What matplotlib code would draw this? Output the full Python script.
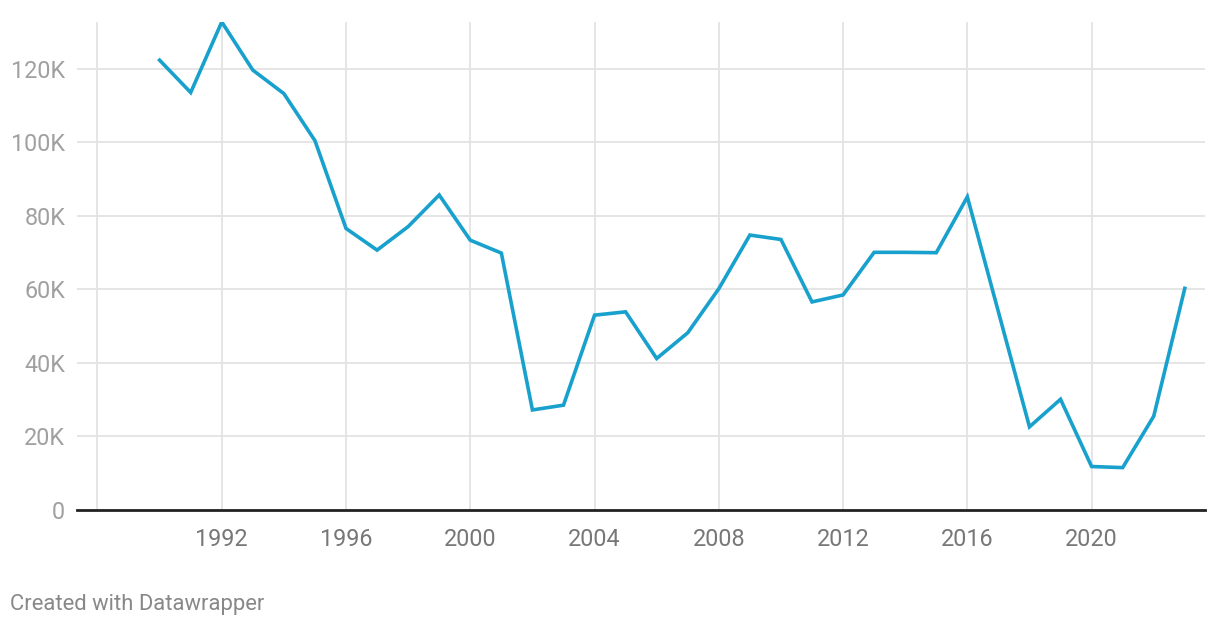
import matplotlib.pyplot as plt

# values (thousands)
years = list(range(1990, 2024))
values = [122.3, 113.5, 132.7, 119.6, 113.2, 100.4, 76.5, 70.6, 77.0, 85.6,
          73.3, 69.8, 27.1, 28.4, 52.9, 53.8, 41.1, 48.1, 60.1, 74.7,
          73.5, 56.5, 58.4, 70.0, 70.0, 69.9, 85.1, 53.8, 22.5, 30.0,
          11.7, 11.4, 25.4, 60.2]

x_ticks = list(range(1988, 2021, 4))
x_labels = [''] + [str(y) for y in x_ticks[1:]]
y_ticks = [0, 20, 40, 60, 80, 100, 120]
y_labels = ['0'] + ['%dK' % v for v in y_ticks[1:]]

plt.rcParams['font.family'] = ['Roboto', 'DejaVu Sans']

fig = plt.figure(figsize=(12.2, 6.26), dpi=100)
ax = fig.add_axes([0.0631, 0.1861, 0.9246, 0.7788])

ax.plot(years, values, color='#18a1cd', linewidth=2.6, solid_joinstyle='miter', zorder=3)

ax.set_xlim(1987.34, 2023.65)
ax.set_ylim(0, 132.7)
ax.set_xticks(x_ticks)
ax.set_xticklabels(x_labels, color='#777777', fontsize=16.8)
ax.set_yticks(y_ticks)
ax.set_yticklabels(y_labels, color='#a0a0a0', fontsize=16.8)
ax.tick_params(axis='both', length=0)
ax.tick_params(axis='x', pad=13)
ax.tick_params(axis='y', pad=8.5)

ax.grid(True, color='#e3e3e3', linewidth=1.3, zorder=0)
ax.set_axisbelow(True)
for side in ['top', 'right', 'left']:
    ax.spines[side].set_visible(False)
ax.spines['bottom'].set_color('#222222')
ax.spines['bottom'].set_linewidth(2)

fig.text(0.0085, 0.026, 'Created with Datawrapper', color='#888888', fontsize=15.8)

plt.savefig('out.png', dpi=100)
